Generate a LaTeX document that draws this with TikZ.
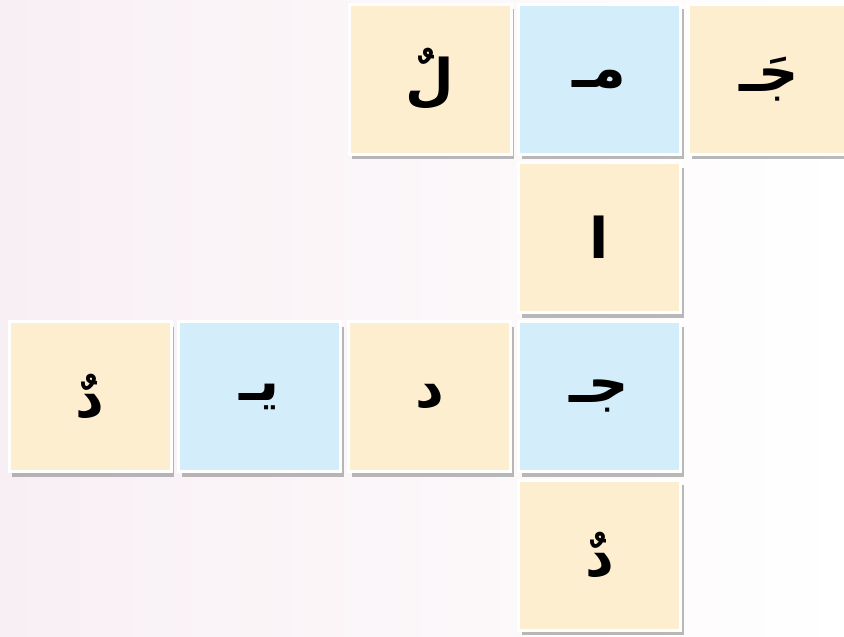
\documentclass[tikz,border=0pt]{standalone}
\usepackage{fontspec}
\newfontfamily\arabicfont[Script=Arabic]{DejaVu Sans}
\TeXXeTstate=1
\usetikzlibrary{shadows}
\definecolor{krem}{HTML}{FDEED0}
\definecolor{kek}{HTML}{D3EEFA}
\definecolor{hatter}{HTML}{F8EFF4}
\tikzset{
  lap/.style={draw=white,line width=3pt,minimum width=162pt,minimum height=150pt,
    inner sep=0pt,font=\arabicfont\bfseries\fontsize{56}{60}\selectfont,
    drop shadow={opacity=0.45,shadow xshift=3pt,shadow yshift=-5pt,fill=black!60}},
  sarga/.style={lap,fill=krem},
  kekl/.style={lap,fill=kek},
}

\begin{document}
\begin{tikzpicture}[x=1pt,y=-1pt]
  \useasboundingbox (0,0) rectangle (844,637);
  \shade[left color=hatter,right color=white] (0,0) rectangle (844,637);
  % felso sor
  \node[sarga] (lam) at (430,79) {\beginR لٌ\endR};
  \node[kekl] (mim) at (599.5,79) {\beginR مـ\endR};
  \node[sarga] (dzsim) at (769.5,79) {\beginR جَـ\endR};
  % fuggoleges oszlop
  \node[sarga] (alif) at (599.5,237.5) {\beginR ا\endR};
  \node[kekl] (dzsim2) at (599.5,396.5) {\beginR جـ\endR};
  \node[sarga] (dal) at (599.5,555) {\beginR دٌ\endR};
  % also sor
  \foreach \nev/\x/\szin/\betu in {dal2/429.5/sarga/{د}, ja/259.5/kekl/{يـ}, dal3/90/sarga/{دٌ}} {
    \node[\szin] (\nev) at (\x,396.5) {\beginR \betu\endR};
  }
\end{tikzpicture}
\end{document}
